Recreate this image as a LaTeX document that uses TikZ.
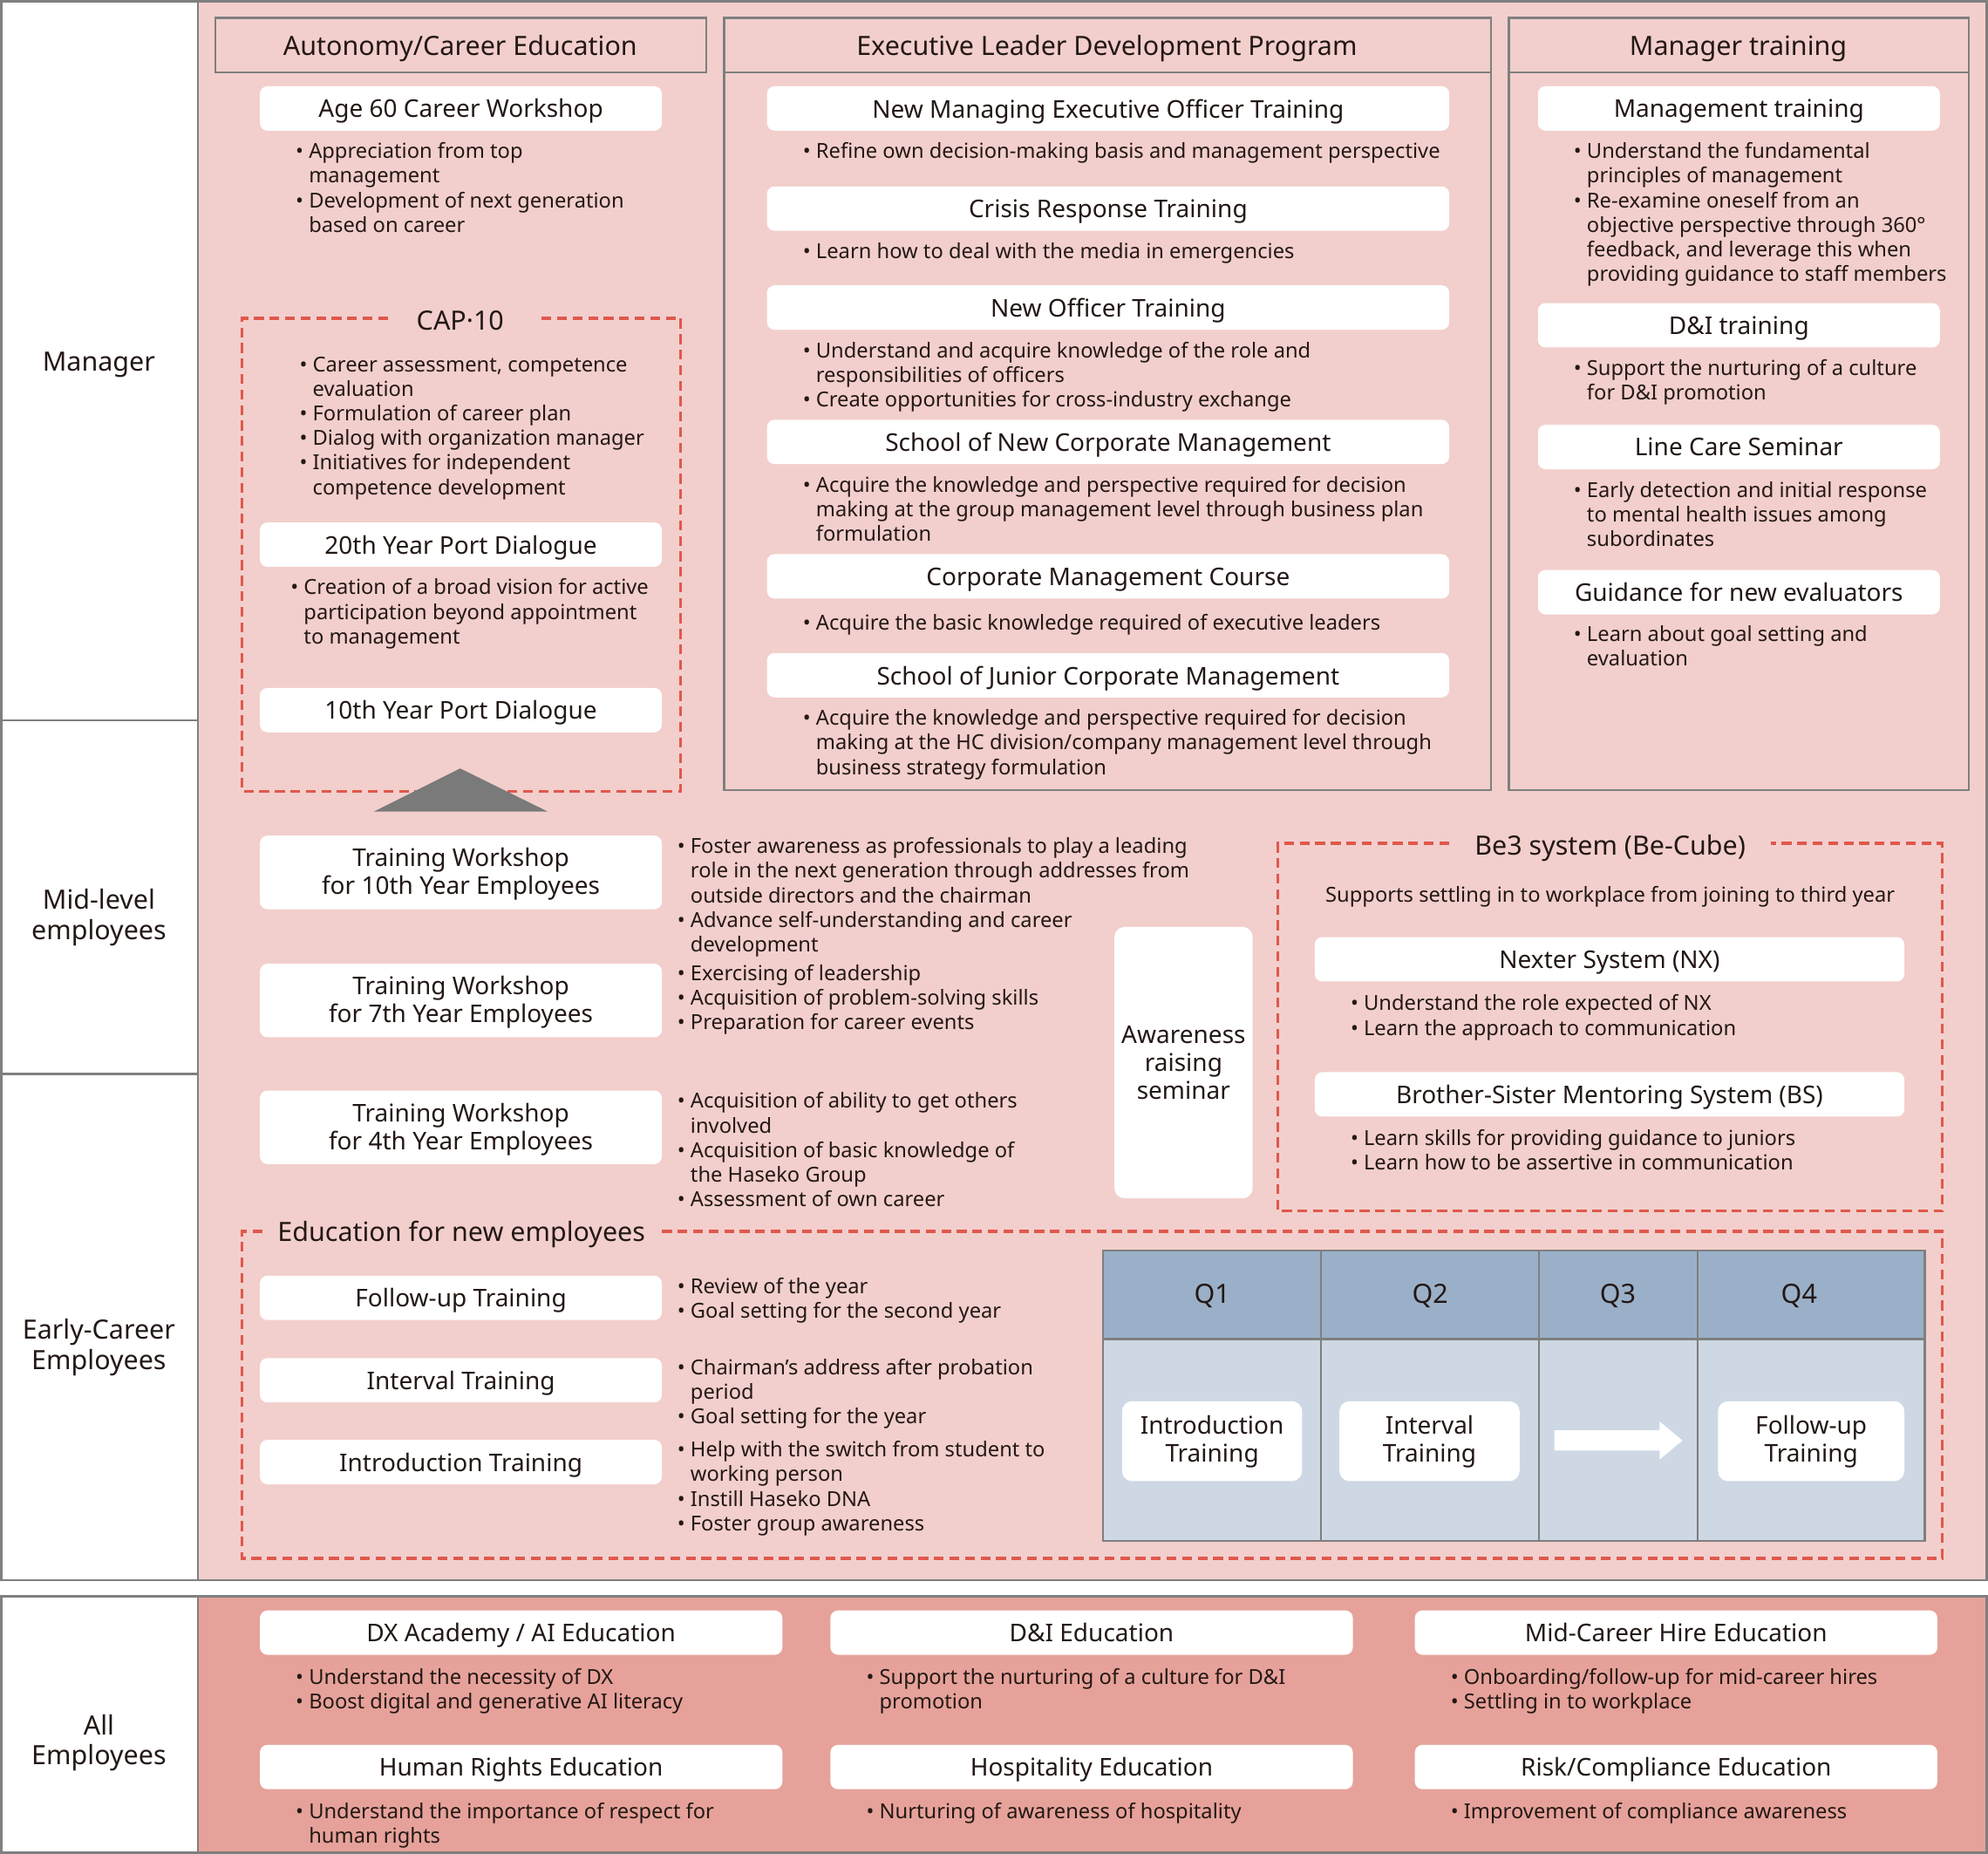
\documentclass[tikz,border=0pt]{standalone}
\usepackage{fontspec}
\setmainfont{Noto Sans}
\usetikzlibrary{positioning}

\definecolor{bgpink}{HTML}{F2CFCC}
\definecolor{allpink}{HTML}{E6A29A}
\definecolor{dashred}{HTML}{E0584C}
\definecolor{framegray}{HTML}{7F7F7F}
\definecolor{qhead}{HTML}{9AB0C8}
\definecolor{qbody}{HTML}{CDD8E4}
\definecolor{txt}{HTML}{231815}
\definecolor{trigray}{HTML}{7A7A7A}

\newcommand{\fbody}{\fontsize{11.6}{13.8}\selectfont}
\newcommand{\ftitle}{\fontsize{13.7}{15.6}\selectfont}
\newcommand{\fhead}{\fontsize{14.9}{16}\selectfont}
\newcommand{\flab}{\fontsize{14.9}{17}\selectfont}
\newcommand{\blist}[1]{\begin{tabular}[t]{@{}l@{\hspace{3pt}}l@{}}#1\end{tabular}}
\newcommand{\bu}{\textbullet&}

\tikzset{
  wbox/.style={fill=white, rounded corners=0.15cm, inner sep=0pt, align=center, font=\ftitle, text=txt, text depth=0pt},
  wnarrow/.style={wbox, minimum width=7.925cm, minimum height=0.875cm},
  wexec/.style={wbox, minimum width=13.45cm, minimum height=0.875cm},
  wbe/.style={wbox, minimum width=11.625cm, minimum height=0.875cm},
  wall/.style={wbox, minimum width=10.3cm, minimum height=0.875cm},
  wtwo/.style={wbox, minimum width=7.925cm, minimum height=1.45cm, text depth=0.12em},
  wq/.style={wbox, minimum width=3.55cm, minimum height=1.575cm, rounded corners=0.2cm, text depth=0.24em},
  blt/.style={anchor=base west, inner sep=0pt, font=\fbody, text=txt},
  rowlab/.style={align=center, font=\flab, text=txt, text depth=0pt},
  head/.style={font=\fhead, text=txt, text depth=0pt},
  frame/.style={draw=framegray, line width=1.2pt},
  dframe/.style={draw=dashred, line width=1.6pt, dash pattern=on 5.5pt off 3.2pt},
}

\begin{document}
\begin{tikzpicture}[x=0.025cm,y=-0.025cm]
\useasboundingbox (0,0) rectangle (1568,1462);
\fill[white] (0,0) rectangle (1568,1462);

% Grid of levels
\filldraw[fill=bgpink, frame] (156,1) rectangle (1567,1246);
\filldraw[fill=allpink, frame] (156,1259) rectangle (1567,1461);
\draw[frame] (1,1) rectangle (156,568);
\draw[frame] (1,568) rectangle (156,847);
\draw[frame] (1,847) rectangle (156,1246);
\draw[frame] (1,1259) rectangle (156,1461);

\node[rowlab] (lman) at (78,285) {Manager};
\node[rowlab] (lmid) at (78,721) {Mid-level\\employees};
\node[rowlab] (learly) at (78,1060) {Early-Career\\Employees};
\node[rowlab] (lall) at (78,1372) {All\\Employees};

% Column headers
\draw[frame] (170,14) rectangle (557,57);
\node[head] (hauto) at (363,36) {Autonomy/Career Education};
\draw[frame] (571,14) rectangle (1176,623);
\draw[frame] (571,57) -- (1176,57);
\node[head] (hexec) at (873,36) {Executive Leader Development Program};
\draw[frame] (1190,14) rectangle (1553,623);
\draw[frame] (1190,57) -- (1553,57);
\node[head] (hmgr) at (1371,36) {Manager training};

% Autonomy/Career Education
\node[wnarrow] (age60) at (363.5,85.5) {Age 60 Career Workshop};
\node[blt] (age60b) at (233,125) {\blist{\bu Appreciation from top\\ & management\\ \bu Development of next generation\\ & based on career}};

\draw[dframe] (306,251) -- (191,251) -- (191,624) -- (537,624) -- (537,251) -- (423,251);
\node[head] (cap10) at (363,253) {CAP·10};
\node[blt] (cap10b) at (236,293) {\blist{\bu Career assessment, competence\\ & evaluation\\ \bu Formulation of career plan\\ \bu Dialog with organization manager\\ \bu Initiatives for independent\\ & competence development}};
\node[wnarrow] (port20) at (363.5,429.5) {20th Year Port Dialogue};
\node[blt] (port20b) at (229,469) {\blist{\bu Creation of a broad vision for active\\ & participation beyond appointment\\ & to management}};
\node[wnarrow] (port10) at (363.5,560) {10th Year Port Dialogue};
\fill[trigray] (295,640) -- (363,606) -- (432,640) -- cycle;

% Executive Leader Development Program
\node[wexec] (e1) at (874,85.5) {New Managing Executive Officer Training};
\node[blt] (e1b) at (633,125) {\blist{\bu Refine own decision-making basis and management perspective}};
\node[wexec] (e2) at (874,164.5) {Crisis Response Training};
\node[blt] (e2b) at (633,204) {\blist{\bu Learn how to deal with the media in emergencies}};
\node[wexec] (e3) at (874,242.5) {New Officer Training};
\node[blt] (e3b) at (633,282) {\blist{\bu Understand and acquire knowledge of the role and\\ & responsibilities of officers\\ \bu Create opportunities for cross-industry exchange}};
\node[wexec] (e4) at (874,348.5) {School of New Corporate Management};
\node[blt] (e4b) at (633,388) {\blist{\bu Acquire the knowledge and perspective required for decision\\ & making at the group management level through business plan\\ & formulation}};
\node[wexec] (e5) at (874,454.5) {Corporate Management Course};
\node[blt] (e5b) at (633,497) {\blist{\bu Acquire the basic knowledge required of executive leaders}};
\node[wexec] (e6) at (874,532.5) {School of Junior Corporate Management};
\node[blt] (e6b) at (633,572) {\blist{\bu Acquire the knowledge and perspective required for decision\\ & making at the HC division/company management level through\\ & business strategy formulation}};

% Manager training
\node[wnarrow] (m1) at (1371.5,85.5) {Management training};
\node[blt] (m1b) at (1241,125) {\blist{\bu Understand the fundamental\\ & principles of management\\ \bu Re-examine oneself from an\\ & objective perspective through 360°\\ & feedback, and leverage this when\\ & providing guidance to staff members}};
\node[wnarrow] (m2) at (1371.5,256.5) {D\&I training};
\node[blt] (m2b) at (1241,296) {\blist{\bu Support the nurturing of a culture\\ & for D\&I promotion}};
\node[wnarrow] (m3) at (1371.5,352.5) {Line Care Seminar};
\node[blt] (m3b) at (1241,392) {\blist{\bu Early detection and initial response\\ & to mental health issues among\\ & subordinates}};
\node[wnarrow] (m4) at (1371.5,467) {Guidance for new evaluators};
\node[blt] (m4b) at (1241,506) {\blist{\bu Learn about goal setting and\\ & evaluation}};

% Mid-level workshops
\node[wtwo] (w10) at (363.5,688) {Training Workshop\\for 10th Year Employees};
\node[blt] (w10b) at (534,673) {\blist{\bu Foster awareness as professionals to play a leading\\ & role in the next generation through addresses from\\ & outside directors and the chairman\\ \bu Advance self-understanding and career\\ & development}};
\node[wtwo] (w7) at (363.5,789) {Training Workshop\\for 7th Year Employees};
\node[blt] (w7b) at (534,773) {\blist{\bu Exercising of leadership\\ \bu Acquisition of problem-solving skills\\ \bu Preparation for career events}};
\node[wtwo] (w4) at (363.5,889) {Training Workshop\\for 4th Year Employees};
\node[blt] (w4b) at (534,874) {\blist{\bu Acquisition of ability to get others\\ & involved\\ \bu Acquisition of basic knowledge of\\ & the Haseko Group\\ \bu Assessment of own career}};
\node[wbox, minimum width=2.725cm, minimum height=5.35cm, rounded corners=0.2cm] (aware) at (933.5,838) {Awareness\\raising\\seminar};

% Be3 system
\draw[dframe] (1143,665) -- (1008,665) -- (1008,955) -- (1532,955) -- (1532,665) -- (1397,665);
\node[head] (be3) at (1270,666) {Be3 system (Be-Cube)};
\node[font=\fbody, text=txt, text depth=0pt] (be3sub) at (1270,705) {Supports settling in to workplace from joining to third year};
\node[wbe] (nx) at (1269.5,756.5) {Nexter System (NX)};
\node[blt] (nxb) at (1065,797) {\blist{\bu Understand the role expected of NX\\ \bu Learn the approach to communication}};
\node[wbe] (bs) at (1269.5,863) {Brother-Sister Mentoring System (BS)};
\node[blt] (bsb) at (1065,903) {\blist{\bu Learn skills for providing guidance to juniors\\ \bu Learn how to be assertive in communication}};

% Education for new employees
\draw[dframe] (207,971) -- (191,971) -- (191,1229) -- (1532,1229) -- (1532,971) -- (518,971);
\node[head, anchor=west] (edu) at (214,971) {Education for new employees};
\node[wnarrow] (fu) at (363.5,1023.5) {Follow-up Training};
\node[blt] (fub) at (534,1020) {\blist{\bu Review of the year\\ \bu Goal setting for the second year}};
\node[wnarrow] (it) at (363.5,1088.5) {Interval Training};
\node[blt] (itb) at (534,1084) {\blist{\bu Chairman’s address after probation\\ & period\\ \bu Goal setting for the year}};
\node[wnarrow] (in) at (363.5,1153) {Introduction Training};
\node[blt] (inb) at (534,1149) {\blist{\bu Help with the switch from student to\\ & working person\\ \bu Instill Haseko DNA\\ \bu Foster group awareness}};

% quarter table
\fill[qhead] (870,986) rectangle (1518,1056);
\fill[qbody] (870,1056) rectangle (1518,1215);
\draw[frame] (870,986) rectangle (1518,1215);
\draw[frame] (870,1056) -- (1518,1056);
\foreach \x in {1042,1214,1339}
  \draw[frame] (\x,986) -- (\x,1215);
\foreach \x/\q in {956/1,1128/2,1276/3,1419/4}
  \node[head] (q\q) at (\x,1020) {Q\q};
\node[wq] (qin) at (956,1136.5) {Introduction\\Training};
\node[wq] (qit) at (1127.5,1136.5) {Interval\\Training};
\node[wq, minimum width=3.675cm] (qfu) at (1428.5,1136.5) {Follow-up\\Training};
\fill[white] (1226,1128) -- (1309,1128) -- (1309,1121) -- (1327,1136) -- (1309,1151) -- (1309,1144) -- (1226,1144) -- cycle;

% All employees
\node[wall] (a1) at (411,1287.5) {DX Academy / AI Education};
\node[blt] (a1b) at (233,1328) {\blist{\bu Understand the necessity of DX\\ \bu Boost digital and generative AI literacy}};
\node[wall] (a2) at (861,1287.5) {D\&I Education};
\node[blt] (a2b) at (683,1328) {\blist{\bu Support the nurturing of a culture for D\&I\\ & promotion}};
\node[wall] (a3) at (1322,1287.5) {Mid-Career Hire Education};
\node[blt] (a3b) at (1144,1328) {\blist{\bu Onboarding/follow-up for mid-career hires\\ \bu Settling in to workplace}};
\node[wall] (a4) at (411,1393.5) {Human Rights Education};
\node[blt] (a4b) at (233,1434) {\blist{\bu Understand the importance of respect for\\ & human rights}};
\node[wall] (a5) at (861,1393.5) {Hospitality Education};
\node[blt] (a5b) at (683,1434) {\blist{\bu Nurturing of awareness of hospitality}};
\node[wall] (a6) at (1322,1393.5) {Risk/Compliance Education};
\node[blt] (a6b) at (1144,1434) {\blist{\bu Improvement of compliance awareness}};
\end{tikzpicture}
\end{document}
